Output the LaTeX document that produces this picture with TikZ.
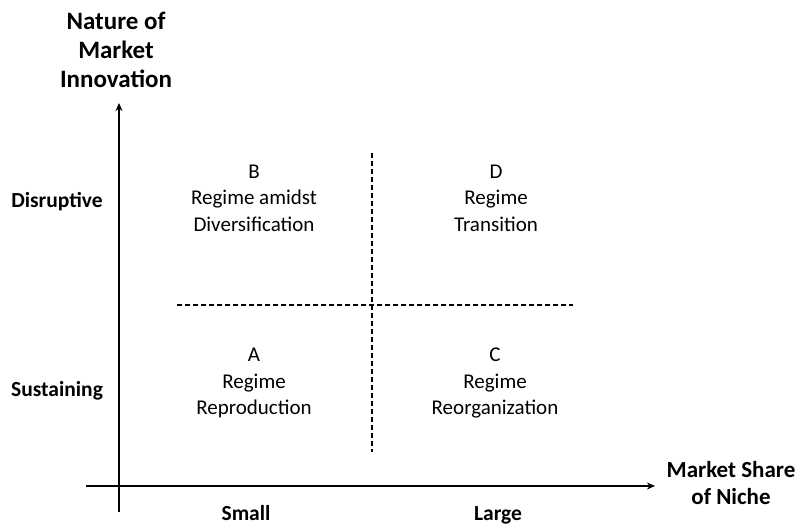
\documentclass[tikz,border=0pt]{standalone}
\usepackage{fontspec}
\setmainfont{Carlito}
\usetikzlibrary{arrows.meta}
\begin{document}
\begin{tikzpicture}[x=1pt,y=-1pt,
  axis/.style={line width=2pt,draw=black},
  divider/.style={line width=1.5pt,draw=black,dash pattern=on 5pt off 3pt},
  quad/.style={align=center,font=\fontsize{21}{26.5}\selectfont,inner sep=0pt},
  axtitle/.style={align=center,font=\fontsize{25}{29}\selectfont\bfseries,inner sep=0pt},
  ticklab/.style={font=\fontsize{21.5}{24}\selectfont\bfseries,inner sep=0pt}]
\useasboundingbox (0,0) rectangle (800,526);
\coordinate (ybot) at (119,512);
\coordinate (ytop) at (119,103);
\coordinate (xleft) at (86,486);
\coordinate (xright) at (655,486);
\draw[axis,-{Stealth[length=8pt,width=7pt]}] (ybot) -- (ytop);
\draw[axis,-{Stealth[length=8pt,width=7pt]}] (xleft) -- (xright);
\coordinate (vtop) at (372,153);
\coordinate (vbot) at (372,452);
\coordinate (hl) at (177,305);
\coordinate (hr) at (573,305);
\draw[divider] (vtop) -- (vbot);
\draw[divider] (hl) -- (hr);
\node[axtitle] (ytitle) at (116,50) {Nature of\\Market\\Innovation};
\node[axtitle,font=\fontsize{23}{26.5}\selectfont\bfseries] (xtitle) at (731,483) {Market Share\\of Niche};
\node[ticklab] (dis) at (57,202) {Disruptive};
\node[ticklab] (sus) at (57,391) {Sustaining};
\node[ticklab,anchor=base] (small) at (246,520) {Small};
\node[ticklab,anchor=base] (large) at (498,520) {Large};
\node[quad] (B) at (254,198) {B\\Regime amidst\\Diversification};
\node[quad] (D) at (496,198) {D\\Regime\\Transition};
\node[quad] (A) at (254,383) {A\\Regime\\Reproduction};
\node[quad] (C) at (495,383) {C\\Regime\\Reorganization};
\end{tikzpicture}
\end{document}
